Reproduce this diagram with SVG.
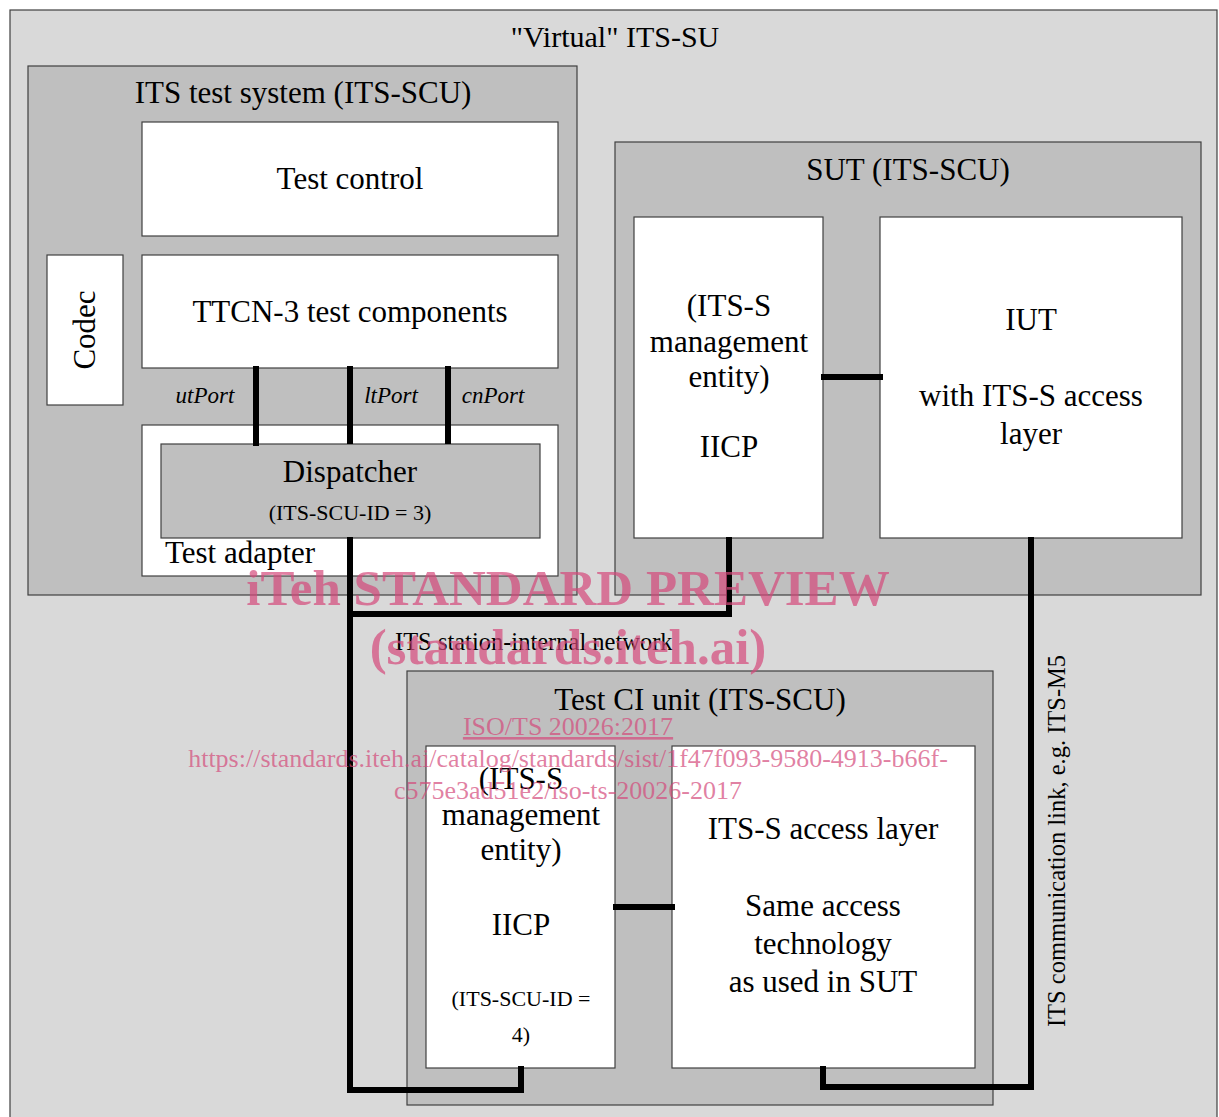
<svg xmlns="http://www.w3.org/2000/svg" width="1219" height="1117" viewBox="0 0 1219 1117">
<style>
.t{font-family:"Liberation Serif",serif;fill:#000;text-anchor:middle}
.big{font-size:31px}
.mid{font-size:22px}
.it{font-style:italic;font-size:23px}
.outer{fill:#d9d9d9;stroke:#404040;stroke-width:1.2}
.grey{fill:#bfbfbf;stroke:#404040;stroke-width:1.2}
.white{fill:#fff;stroke:#404040;stroke-width:1.2}
.wire{fill:none;stroke:#000;stroke-width:6}
.wm{font-family:"Liberation Serif",serif;fill:#d4497a;fill-opacity:0.7;text-anchor:middle}
</style>
<rect x="0" y="0" width="1219" height="1117" fill="#fff"/>
<g id="virtual-its-su">
<rect class="outer" x="10" y="10" width="1207" height="1120"/>
<text class="t" x="615" y="47" style="font-size:30px">"Virtual" ITS-SU</text>
</g>
<g id="its-test-system">
<rect class="grey" x="28" y="66" width="549" height="529"/>
<text class="t big" x="303" y="103">ITS test system (ITS-SCU)</text>
</g>
<g id="test-control">
<rect class="white" x="142" y="122" width="416" height="114"/>
<text class="t big" x="350" y="189">Test control</text>
</g>
<g id="codec">
<rect class="white" x="47" y="255" width="76" height="150"/>
<text class="t big" transform="translate(95,330) rotate(-90)">Codec</text>
</g>
<g id="ttcn3">
<rect class="white" x="142" y="255" width="416" height="113"/>
<text class="t big" x="350" y="322">TTCN-3 test components</text>
</g>
<g id="test-adapter">
<rect class="white" x="142" y="425" width="416" height="151"/>
<text class="t big" x="165" y="563" style="text-anchor:start">Test adapter</text>
</g>
<g id="dispatcher">
<rect class="grey" x="161" y="444" width="379" height="94"/>
<text class="t big" x="350" y="482">Dispatcher</text>
<text class="t mid" x="350" y="520">(ITS-SCU-ID = 3)</text>
</g>
<g id="sut">
<rect class="grey" x="615" y="142" width="586" height="453"/>
<text class="t big" x="908" y="180">SUT (ITS-SCU)</text>
</g>
<g id="sut-mgmt">
<rect class="white" x="634" y="217" width="189" height="321"/>
<text class="t big" x="729" y="316">(ITS-S</text>
<text class="t big" x="729" y="352">management</text>
<text class="t big" x="729" y="387">entity)</text>
<text class="t big" x="729" y="457">IICP</text>
</g>
<g id="iut">
<rect class="white" x="880" y="217" width="302" height="321"/>
<text class="t big" x="1031" y="330">IUT</text>
<text class="t big" x="1031" y="406">with ITS-S access</text>
<text class="t big" x="1031" y="444">layer</text>
</g>
<g id="test-ci-unit">
<rect class="grey" x="407" y="671" width="586" height="434"/>
<text class="t big" x="700" y="710">Test CI unit (ITS-SCU)</text>
</g>
<g id="ci-mgmt">
<rect class="white" x="426" y="746" width="189" height="322"/>
<text class="t big" x="521" y="789">(ITS-S</text>
<text class="t big" x="521" y="825">management</text>
<text class="t big" x="521" y="860">entity)</text>
<text class="t big" x="521" y="935">IICP</text>
<text class="t mid" x="521" y="1006">(ITS-SCU-ID =</text>
<text class="t mid" x="521" y="1042">4)</text>
</g>
<g id="ci-access">
<rect class="white" x="672" y="746" width="303" height="322"/>
<text class="t big" x="823" y="839">ITS-S access layer</text>
<text class="t big" x="823" y="916">Same access</text>
<text class="t big" x="823" y="954">technology</text>
<text class="t big" x="823" y="992">as used in SUT</text>
</g>
<g id="connectors">
<line class="wire" x1="256" y1="366" x2="256" y2="446"/>
<line class="wire" x1="350" y1="366" x2="350" y2="444"/>
<line class="wire" x1="448" y1="366" x2="448" y2="444"/>
<line class="wire" x1="821" y1="377" x2="883" y2="377"/>
<line class="wire" x1="613" y1="907" x2="675" y2="907"/>
<polyline class="wire" points="350,537 350,1090 521,1090 521,1066"/>
<polyline class="wire" points="729,537 729,614 350,614"/>
<polyline class="wire" points="1031,537 1031,1087 823,1087 823,1066"/>
<text class="t it" x="205" y="403">utPort</text>
<text class="t it" x="391" y="403">ltPort</text>
<text class="t it" x="493" y="403">cnPort</text>
<text class="t" x="395" y="650" style="text-anchor:start;font-size:24.5px">ITS station-internal network</text>
<text class="t" transform="translate(1065,841) rotate(-90)" style="font-size:24.5px">ITS communication link, e.g. ITS-M5</text>
</g>
<g id="watermark">
<text class="wm" x="568" y="605" style="font-size:51px;font-weight:bold">iTeh STANDARD PREVIEW</text>
<text class="wm" x="568" y="664" style="font-size:51px;font-weight:bold">(standards.iteh.ai)</text>
<text class="wm" x="568" y="735" style="font-size:26px;text-decoration:underline">ISO/TS 20026:2017</text>
<text class="wm" x="568" y="767" style="font-size:26px">https://standards.iteh.ai/catalog/standards/sist/1f47f093-9580-4913-b66f-</text>
<text class="wm" x="568" y="799" style="font-size:26px">c575e3ad51e2/iso-ts-20026-2017</text>
</g>
</svg>
